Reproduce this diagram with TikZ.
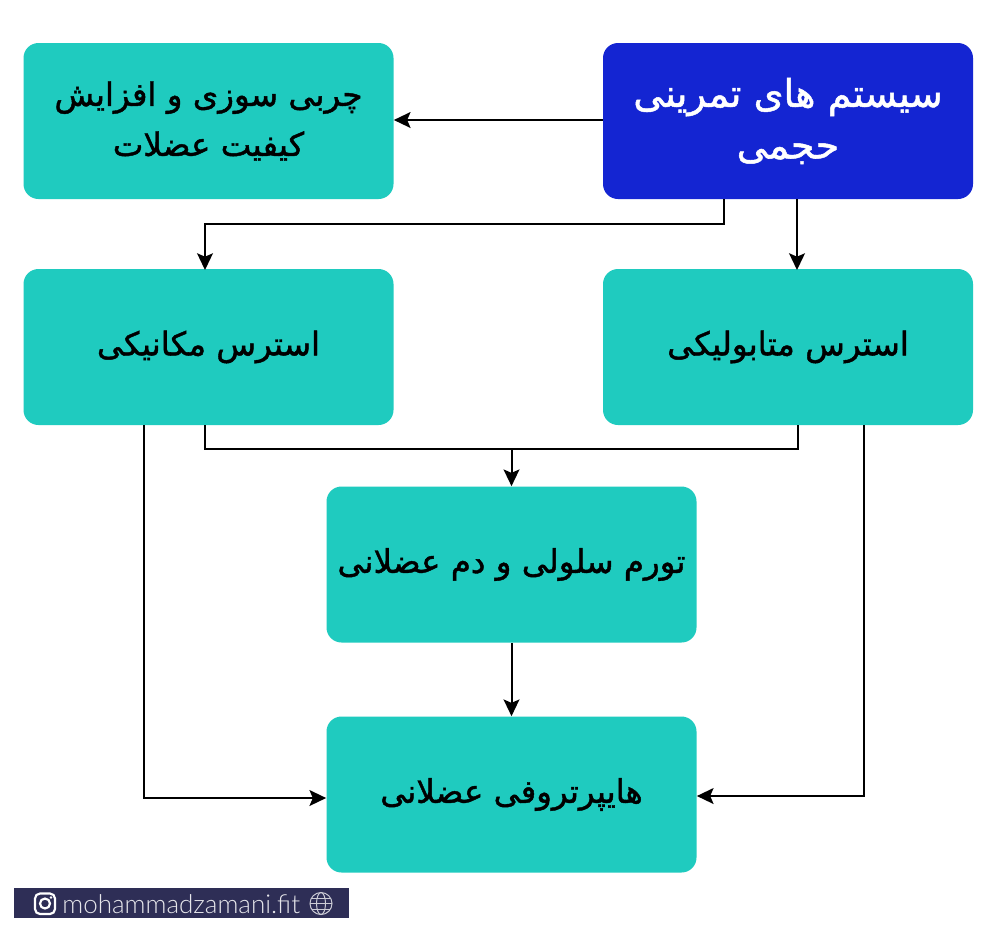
\documentclass[tikz,border=0pt]{standalone}
\usepackage{fontspec}
\usetikzlibrary{arrows.meta}
\TeXXeTstate=1
\newfontfamily\arabicfont[Script=Arabic,FakeBold=1.3]{DejaVu Sans}
\newfontfamily\tagfont{Lato Light}
\setmainfont{Poppins}
\definecolor{tealbox}{HTML}{1FCBBF}
\definecolor{bluebox}{HTML}{1425D2}
\definecolor{tagbg}{HTML}{2E2E56}
\tikzset{x=0.6pt,y=-0.6pt,
 box/.style={rounded corners=9pt,minimum width=222pt,minimum height=93.6pt,fill=tealbox,align=center,text=black,inner sep=0pt,font=\arabicfont\fontsize{19.5}{30}\selectfont},
 bluestyle/.style={fill=bluebox,text=white,font=\arabicfont\fontsize{23}{31}\selectfont},
 conn/.style={draw=black,line width=1.2pt,-{Stealth[length=10pt,width=9.5pt,inset=2pt]}},
 plain/.style={draw=black,line width=1.2pt}}
\begin{document}
\begin{tikzpicture}
\useasboundingbox (0,0) rectangle (1000,927);
\fill[white] (0,0) rectangle (1000,927);
\node[box] (fat) at (208.5,121) {\beginR چربی سوزی و افزایش\endR\\\beginR کیفیت عضلات\endR};
\node[box,bluestyle] (sys) at (788,121) {\beginR سیستم های تمرینی\endR\\\beginR حجمی\endR};
\node[box] (mech) at (208.5,347) {\beginR استرس مکانیکی\endR};
\node[box] (met) at (788,347) {\beginR استرس متابولیکی\endR};
\node[box] (swell) at (511.5,564.5) {\beginR تورم سلولی و دم عضلانی\endR};
\node[box] (hyp) at (511.5,794.5) {\beginR هایپرتروفی عضلانی\endR};
\coordinate (sysL) at (724,199);
\coordinate (mechT) at (205,270);
\coordinate (mechB) at (205,425);
\coordinate (metB) at (798,425);
\coordinate (j) at (511.5,449);
\draw[conn] (sys.west |- 0,120) -- (fat.east |- 0,120);
\draw[conn] (sysL) -- (724,224) -- (205,224) -- (mechT);
\draw[conn] (797,199) -- (797,270);
\draw[plain] (mechB) -- (205,449) -- (798,449) -- (metB);
\draw[conn] (j) -- (swell.north);
\draw[conn] (swell.south) -- (hyp.north);
\draw[conn] (144,425) -- (144,798) -- (hyp.west |- 0,798);
\draw[conn] (864,425) -- (864,796) -- (hyp.east |- 0,796);
\fill[tagbg] (14,888) rectangle (349,918);
\node[inner sep=0pt,anchor=west,text=white!88!tagbg,font=\tagfont\fontsize{15.6}{16}\selectfont] (tag) at (62,904) {mohammadzamani.fit};
\draw[white,line width=1.3pt,rounded corners=3pt] (35,893.5) rectangle (55,914);
\draw[white,line width=1.3pt] (45,903.5) circle (5);
\fill[white] (51,897.5) circle (1.3);
\draw[white!75!tagbg,line width=.6pt] (321,903.5) circle (11);
\draw[white!75!tagbg,line width=.6pt] (321,903.5) ellipse (4.5 and 11);
\draw[white!75!tagbg,line width=.6pt] (310,903.5) -- (332,903.5) (312,898) -- (330,898) (312,909) -- (330,909);
\end{tikzpicture}
\end{document}
